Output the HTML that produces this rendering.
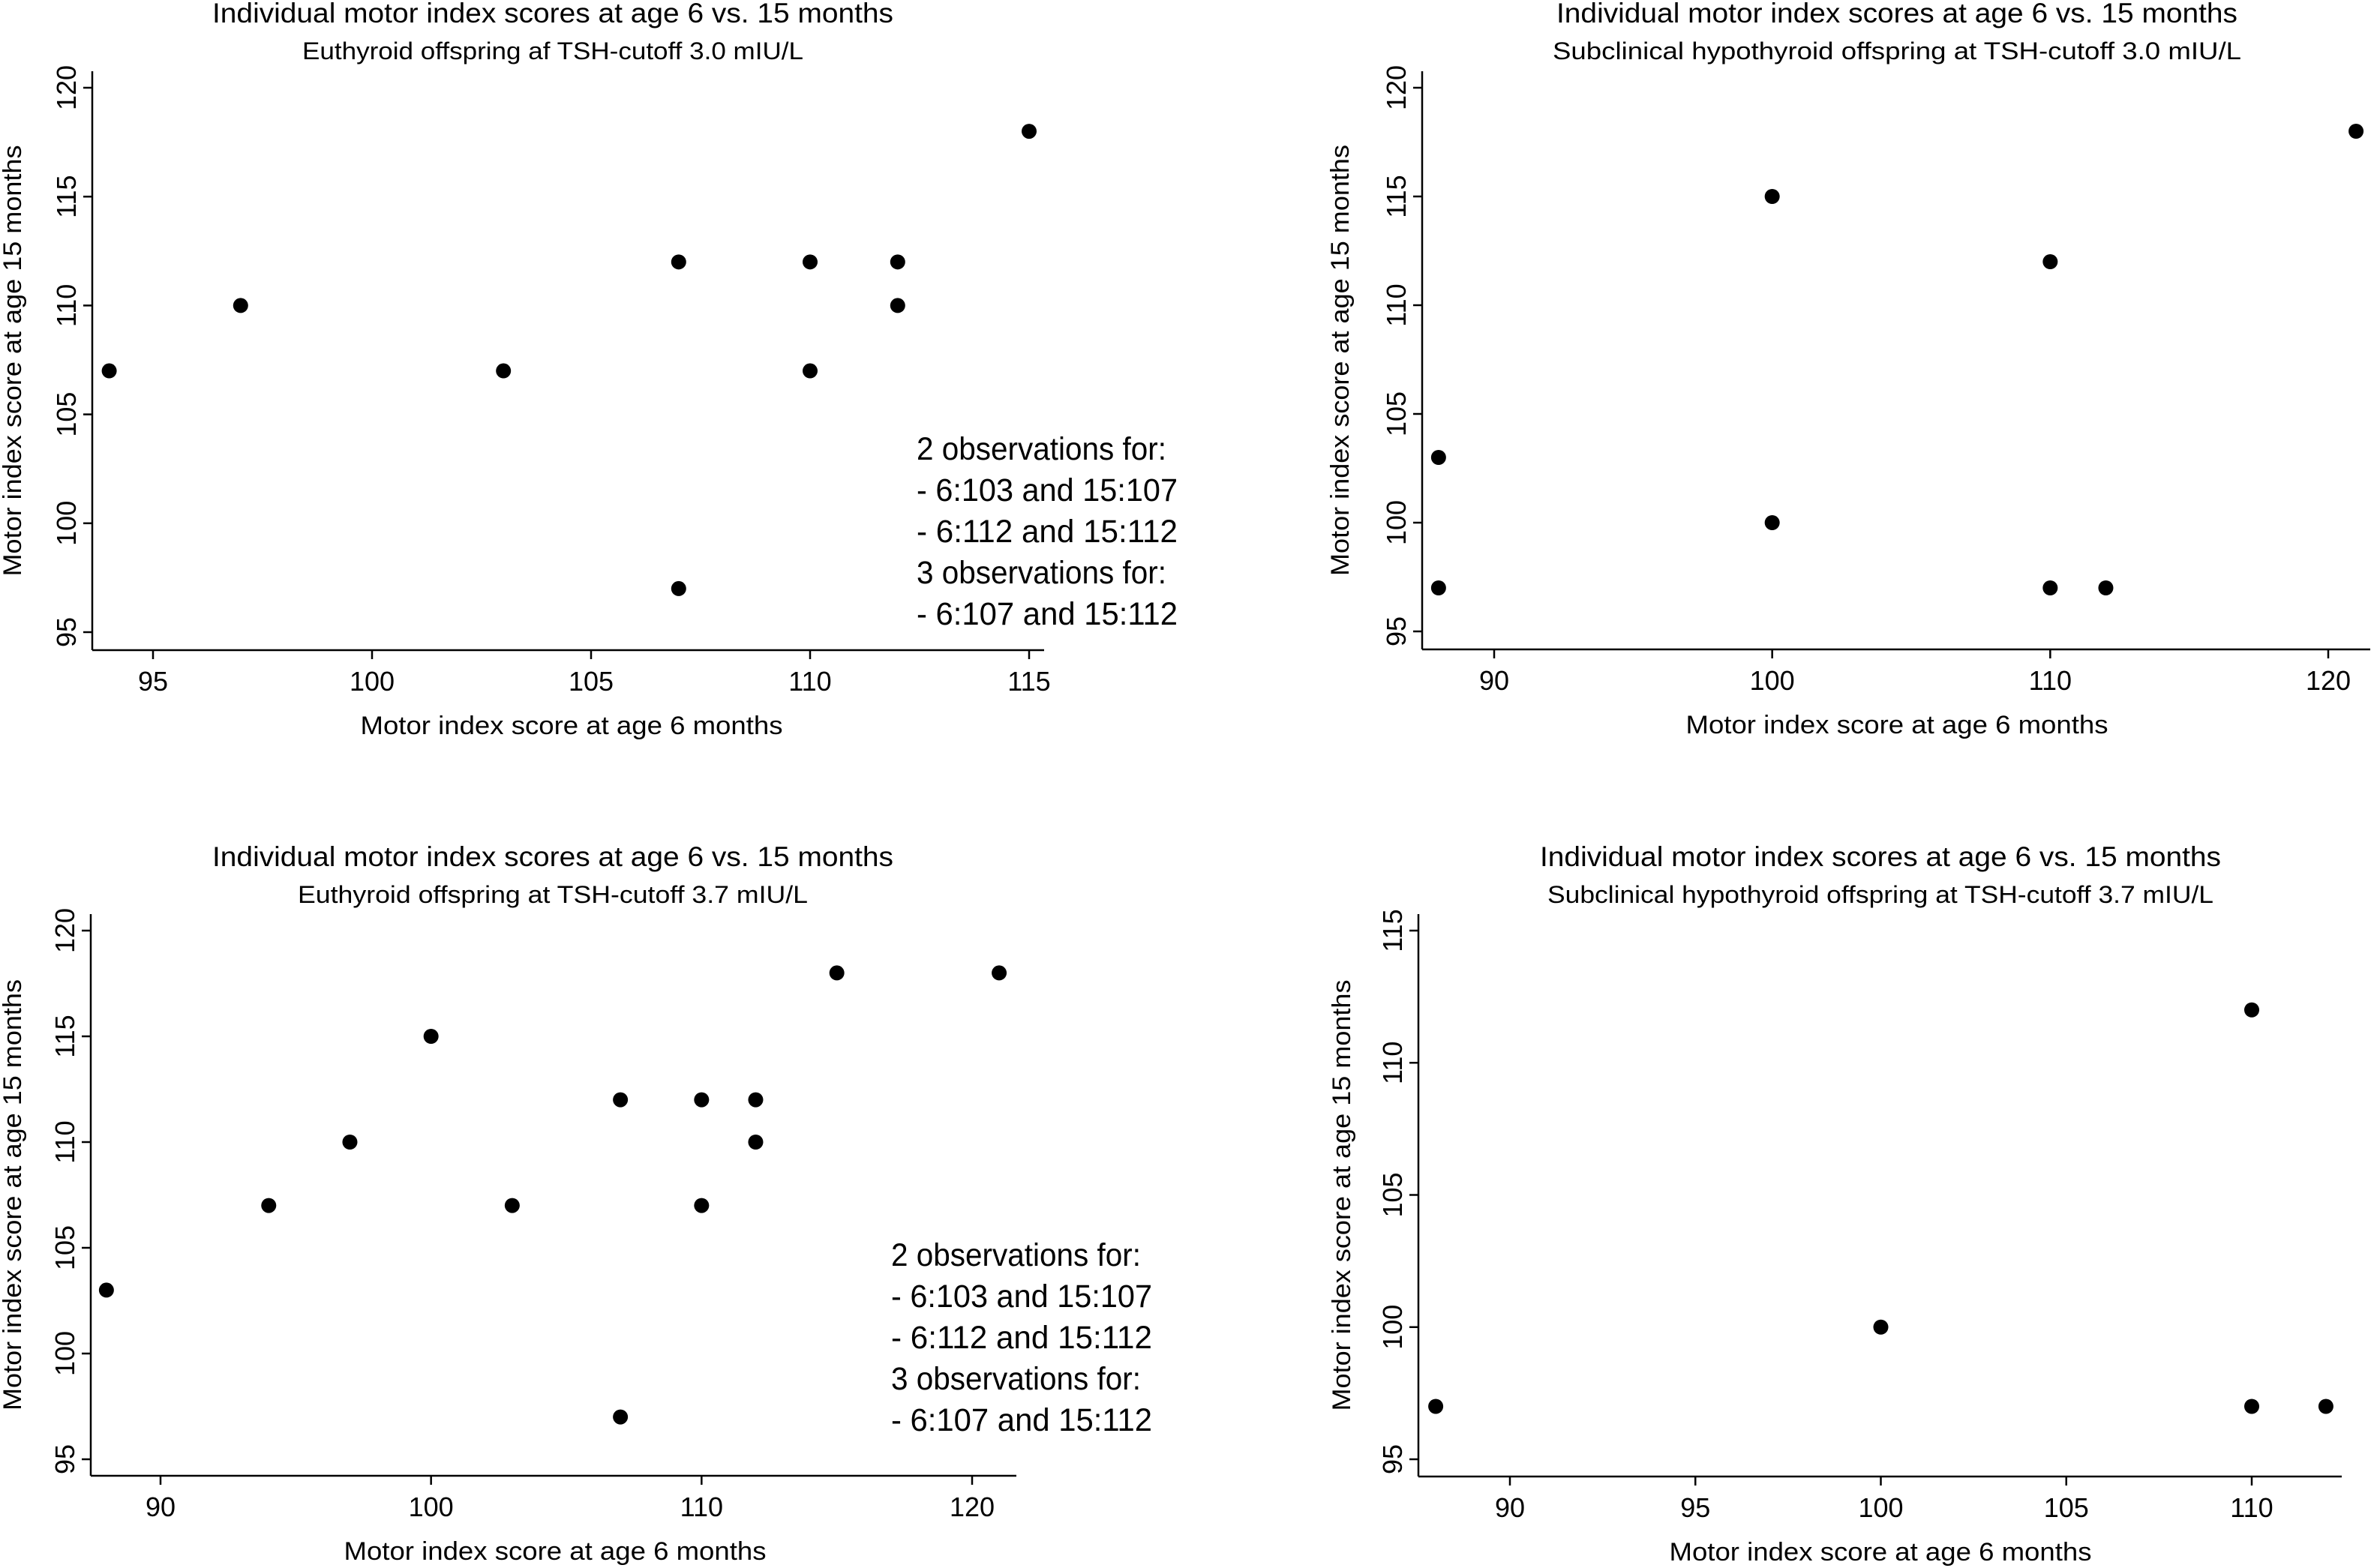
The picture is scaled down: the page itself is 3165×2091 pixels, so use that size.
<!DOCTYPE html>
<html><head><meta charset="utf-8"><style>
html,body{margin:0;padding:0;background:#fff;}
svg{display:block;font-family:"Liberation Sans",sans-serif;}
</style></head><body>
<svg id="chart" width="3165" height="2091" viewBox="0 0 3165 2091" xmlns="http://www.w3.org/2000/svg"></svg>
<script>
// Panel 1: Euthyroid at TSH 3.0
const p1X = [94, 97, 103, 107, 107, 110, 110, 112, 112, 115];
const p1Y = [107, 110, 107, 112, 97, 112, 107, 112, 110, 118];
const p1XTicks = [95, 100, 105, 110, 115];
const p1YTicks = [95, 100, 105, 110, 115, 120];
// Panel 2: Subclinical hypothyroid at TSH 3.0
const p2X = [88, 88, 100, 100, 110, 110, 112, 121];
const p2Y = [103, 97, 115, 100, 112, 97, 97, 118];
const p2XTicks = [90, 100, 110, 120];
const p2YTicks = [95, 100, 105, 110, 115, 120];
// Panel 3: Euthyroid at TSH 3.7
const p3X = [88, 94, 97, 100, 103, 107, 107, 110, 110, 112, 112, 115, 121];
const p3Y = [103, 107, 110, 115, 107, 112, 97, 112, 107, 112, 110, 118, 118];
const p3XTicks = [90, 100, 110, 120];
const p3YTicks = [95, 100, 105, 110, 115, 120];
// Panel 4: Subclinical hypothyroid at TSH 3.7
const p4X = [88, 100, 110, 110, 112];
const p4Y = [97, 100, 112, 97, 97];
const p4XTicks = [90, 95, 100, 105, 110];
const p4YTicks = [95, 100, 105, 110, 115];
const noteLines = ["2 observations for:", "- 6:103 and 15:107", "- 6:112 and 15:112", "3 observations for:", "- 6:107 and 15:112"];

const NS = "http://www.w3.org/2000/svg";
const svg = document.getElementById("chart");
function mk(tag, attrs, parent, text) {
  const e = document.createElementNS(NS, tag);
  for (const k in attrs) e.setAttribute(k, attrs[k]);
  if (text !== undefined) e.textContent = text;
  (parent || svg).appendChild(e);
  return e;
}

function panel(cfg) {
  const g = mk("g", {});
  
  
  const sx = v => cfg.xa.px + (v - cfg.xa.v0) * (cfg.xa.px1 - cfg.xa.px) / (cfg.xa.v1 - cfg.xa.v0);
  const sy = v => cfg.ya.px + (v - cfg.ya.v0) * (cfg.ya.px1 - cfg.ya.px) / (cfg.ya.v1 - cfg.ya.v0);
  const t = mk("text", {x: cfg.cx, y: cfg.titleY, "text-anchor": "middle", "font-size": 37, textLength: 908, lengthAdjust: "spacingAndGlyphs"}, g, "Individual motor index scores at age 6 vs. 15 months");
  
  
  const st = mk("text", {x: cfg.cx, y: cfg.titleY + 49, "text-anchor": "middle", "font-size": 32, textLength: cfg.subW, lengthAdjust: "spacingAndGlyphs"}, g, cfg.sub);
  
  
  const ax = mk("line", {x1: cfg.left, y1: cfg.bottom, x2: cfg.right, y2: cfg.bottom, stroke: "#000", "stroke-width": 2.5}, g);
  
  
  const ay = mk("line", {x1: cfg.left, y1: cfg.top, x2: cfg.left, y2: cfg.bottom, stroke: "#000", "stroke-width": 2.5}, g);
  
  
  cfg.xt.forEach(v => {
    const x = sx(v);
    mk("line", {x1: x, y1: cfg.bottom, x2: x, y2: cfg.bottom + 12, stroke: "#000", "stroke-width": 2.5}, g);
    const l = mk("text", {x: x, y: cfg.bottom + 54, "text-anchor": "middle", "font-size": 36}, g, v);
    
    
  });
  cfg.yt.forEach(v => {
    const y = sy(v);
    mk("line", {x1: cfg.left - 12, y1: y, x2: cfg.left, y2: y, stroke: "#000", "stroke-width": 2.5}, g);
    const l = mk("text", {x: cfg.left - 22, y: y, "text-anchor": "middle", "font-size": 36, transform: `rotate(-90 ${cfg.left - 22} ${y})`}, g, v);
    
    
  });
  const xl = mk("text", {x: cfg.xlX, y: cfg.bottom + 112, "text-anchor": "middle", "font-size": 34, textLength: 563, lengthAdjust: "spacingAndGlyphs"}, g, "Motor index score at age 6 months");
  
  
  const yc = (cfg.top + cfg.bottom) / 2;
  const yl = mk("text", {x: cfg.ylX, y: yc, "text-anchor": "middle", "font-size": 34, textLength: 575, lengthAdjust: "spacingAndGlyphs", transform: `rotate(-90 ${cfg.ylX} ${yc})`}, g, "Motor index score at age 15 months");
  
  
  cfg.xs.forEach((v, i) => {
    const c = mk("circle", {cx: sx(v), cy: sy(cfg.ys[i]), r: 10, fill: "#000"}, g);
    
    
  });
  if (cfg.note) {
    const ng = mk("g", {}, g);
    
    
    noteLines.forEach((s, i) => {
      mk("text", {x: cfg.note.x, y: cfg.note.y + i * 55, "font-size": 43, textLength: (i === 0 || i === 3) ? 333 : 348, lengthAdjust: "spacingAndGlyphs"}, ng, s);
    });
  }
}

panel({name: "panel-euthyroid-3-0", cx: 737, titleY: 30, sub: "Euthyroid offspring af TSH-cutoff 3.0 mIU/L", subW: 668,
  left: 123, right: 1392, top: 95, bottom: 867,
  xa: {v0: 95, v1: 115, px: 204, px1: 1372}, ya: {v0: 95, v1: 120, px: 843, px1: 117},
  xt: p1XTicks, yt: p1YTicks, xs: p1X, ys: p1Y, xlX: 762, ylX: 28, note: {x: 1222, y: 613}});
panel({name: "panel-subclinical-3-0", cx: 2529, titleY: 30, sub: "Subclinical hypothyroid offspring at TSH-cutoff 3.0 mIU/L", subW: 918,
  left: 1896, right: 3160, top: 95, bottom: 866,
  xa: {v0: 90, v1: 120, px: 1992, px1: 3104}, ya: {v0: 95, v1: 120, px: 842, px1: 117},
  xt: p2XTicks, yt: p2YTicks, xs: p2X, ys: p2Y, xlX: 2529, ylX: 1798});
panel({name: "panel-euthyroid-3-7", cx: 737, titleY: 1155, sub: "Euthyroid offspring at TSH-cutoff 3.7 mIU/L", subW: 680,
  left: 121, right: 1355, top: 1219, bottom: 1968,
  xa: {v0: 90, v1: 120, px: 214, px1: 1296}, ya: {v0: 95, v1: 120, px: 1946, px1: 1241},
  xt: p3XTicks, yt: p3YTicks, xs: p3X, ys: p3Y, xlX: 740, ylX: 28, note: {x: 1188, y: 1688}});
panel({name: "panel-subclinical-3-7", cx: 2507, titleY: 1155, sub: "Subclinical hypothyroid offspring at TSH-cutoff 3.7 mIU/L", subW: 888,
  left: 1891, right: 3122, top: 1219, bottom: 1969,
  xa: {v0: 90, v1: 110, px: 2013, px1: 3002}, ya: {v0: 95, v1: 115, px: 1946, px1: 1241},
  xt: p4XTicks, yt: p4YTicks, xs: p4X, ys: p4Y, xlX: 2507, ylX: 1800});
</script>
</body></html>
